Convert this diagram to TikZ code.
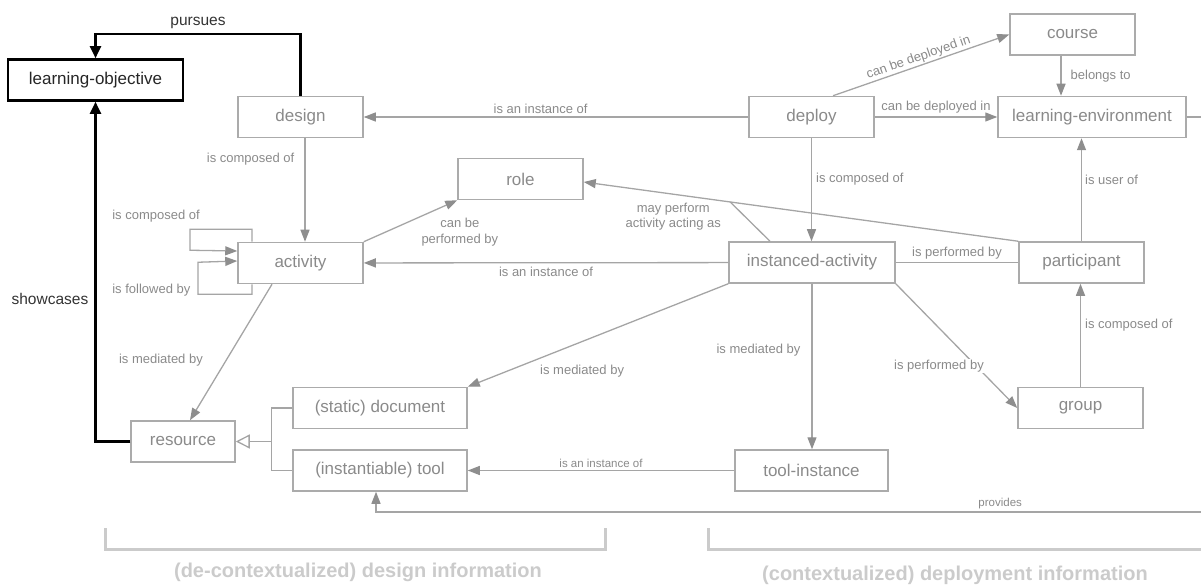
\documentclass[tikz,border=0pt]{standalone}
\usepackage{fontspec}
\setmainfont{Liberation Sans}
\usepackage{xcolor}
\usetikzlibrary{arrows.meta,calc}
\definecolor{boxgray}{HTML}{ABABAB}
\definecolor{txtgray}{HTML}{8A8A8A}
\definecolor{linegray}{HTML}{A5A5A5}
\definecolor{tipgray}{HTML}{8E8E8E}
\definecolor{brackgray}{HTML}{CBCBCB}
\tikzset{
	entity/.style={draw=boxgray, line width=1.5pt, text=txtgray, font=\fontsize{17}{20}\selectfont, minimum height=41pt, inner sep=0pt},
	keyentity/.style={entity, draw=black, line width=2.6pt, text=black!85},
	rel/.style={draw=linegray, line width=1.3pt},
	relarrow/.style={rel, -{Triangle[length=12pt, width=9pt, color=tipgray]}},
	genarrow/.style={rel, -{Triangle[open, length=14pt, width=14pt, fill=white]}},
	keyline/.style={draw=black, line width=2.4pt, -{Triangle[length=12pt, width=11pt]}},
	lbl/.style={text=txtgray, font=\fontsize{13}{15.5}\selectfont, inner sep=1pt},
	smalllbl/.style={lbl, font=\fontsize{11.5}{13}\selectfont},
	keylbl/.style={text=black!80, font=\fontsize{15.5}{18}\selectfont, inner sep=1pt},
	bracket/.style={draw=brackgray, line width=3pt},
	infolbl/.style={text=brackgray, font=\bfseries\fontsize{20}{24}\selectfont}
}
\begin{document}
\begin{tikzpicture}[x=1pt, y=-1pt]
	\useasboundingbox (0,0) rectangle (1201,585);
	\node[keyentity, minimum width=175pt] (objective) at (95.5,80) {learning-objective};
	\node[entity, minimum width=125pt] (design) at (300.5,117) {design};
	\node[entity, minimum width=125pt] (deploy) at (811.5,117) {deploy};
	\node[entity, minimum width=125pt] (course) at (1072.5,34.5) {course};
	\node[entity, minimum width=188pt] (environment) at (1092,117) {learning-environment};
	\node[entity, minimum width=125pt] (role) at (520.5,179) {role};
	\node[entity, minimum width=125pt] (activity) at (300.5,263) {activity};
	\node[entity, minimum width=166pt] (instanced) at (812,262.5) {instanced-activity};
	\node[entity, minimum width=125pt] (participant) at (1081.5,262.5) {participant};
	\node[entity, minimum width=125pt] (group) at (1080.5,408) {group};
	\node[entity, minimum width=153pt] (toolinst) at (811.5,470.5) {tool-instance};
	\node[entity, minimum width=104pt] (resource) at (183,441.5) {resource};
	\node[entity, minimum width=174pt] (document) at (380,408) {(static) document};
	\node[entity, minimum width=174pt] (tool) at (380,470.5) {(instantiable) tool};
	\coordinate (envout) at (1215,117);
	\coordinate (provout) at (1215,512);

	\draw[keyline] (design.north) -- (design.north |- 0,34) -| (objective.north) node[pos=0.25, above=3pt, keylbl] {pursues};
	\draw[keyline] (resource.west) -| (objective.south) node[pos=0.71, left=5pt, keylbl] {showcases};

	\draw[relarrow] ([xshift=4.5pt]design.south) -- ([xshift=4.5pt]activity.north) node[pos=0.2, left=9pt, lbl] {is composed of};
	\draw[relarrow] (deploy) -- (design) node[pos=0.54, above=2pt, lbl] {is an instance of};
	\draw[relarrow] ([xshift=21.5pt]deploy.north) -- (course.west) node[midway, above, sloped, lbl] {can be deployed in};
	\draw[relarrow] (deploy) -- (environment) node[midway, above=2pt, lbl] {can be deployed in};
	\draw[relarrow] ([xshift=-11.5pt]course.south) -- ([xshift=-31pt]environment.north) node[midway, right=8pt, lbl] {belongs to};
	\draw[rel] (environment.east) -- (envout);
	\draw[relarrow] (participant.north) -- (participant.north |- environment.south) node[pos=0.6, right=2pt, lbl] {is user of};
	\draw[relarrow] (deploy.south) -- (deploy.south |- instanced.north) node[pos=0.4, right=3pt, lbl] {is composed of};

	\draw[relarrow] (participant.north west) -- ([yshift=-3pt]role.east) node[pos=0.794, below=7pt, align=center, lbl] {may perform\\activity acting as};
	\coordinate (perform) at ($(participant.north west)!0.663!([yshift=-3pt]role.east)$);
	\draw[rel] ([xshift=-42pt]instanced.north) -- (perform);
	\draw[relarrow] (activity.north east) -- (role.south west) node[pos=0.6, anchor=north west, align=center, lbl] {can be\\performed by};

	\draw[relarrow] ([xshift=-48.5pt]activity.north) -- ++(0,-12.5) -- ++(-62,0) node[pos=1, above=5pt, xshift=-34pt, lbl] {is composed of} -- ++(0,21) -- ([yshift=12pt]activity.west);
	\draw[relarrow] ([xshift=-48.5pt]activity.south) -- ++(0,10) -- ++(-54,0) node[pos=1, left=6pt, yshift=4.5pt, lbl] {is followed by} -- ++(0,-32) -- ([yshift=2pt]activity.west);

	\draw[relarrow] (instanced) -- (activity) node[midway, below=3pt, lbl] {is an instance of};
	\draw[rel] (instanced) -- (participant) node[midway, above=2pt, lbl] {is performed by};
	\draw[relarrow] (instanced.south east) -- (group.west) node[pos=0.664, anchor=east, xshift=9pt, fill=white, lbl] {is performed by};
	\draw[relarrow] (group.north) -- (group.north |- participant.south) node[pos=0.6, right=3pt, lbl] {is composed of};
	\draw[relarrow] (instanced.south west) -- (document.north east) node[pos=0.561, below=22pt, lbl] {is mediated by};
	\draw[relarrow] (instanced.south) -- (instanced.south |- toolinst.north) node[pos=0.4, left=10pt, lbl] {is mediated by};
	\draw[relarrow] (toolinst) -- (tool) node[midway, above=1pt, smalllbl] {is an instance of};
	\draw[relarrow] (provout) -| ([xshift=-4pt]tool.south) node[pos=0.128, above=1pt, smalllbl] {provides};
	\draw[relarrow] ([xshift=-28.5pt]activity.south) -- ([xshift=7pt]resource.north) node[pos=0.555, anchor=east, xshift=-22pt, lbl] {is mediated by};

	\draw[rel] (document.west) -- ++(-21,0) |- (tool.west);
	\draw[genarrow] ([xshift=-21pt]document.west |- resource.east) -- (resource.east);

	\draw[bracket] (105,528) |- (605,549) -- (605,528);
	\draw[bracket] (708,528) |- (1215,549);
	\node[infolbl] (designinfo) at (358,572) {(de-contextualized) design information};
	\node[infolbl] (deployinfo) at (955,575) {(contextualized) deployment information};
\end{tikzpicture}
\end{document}
